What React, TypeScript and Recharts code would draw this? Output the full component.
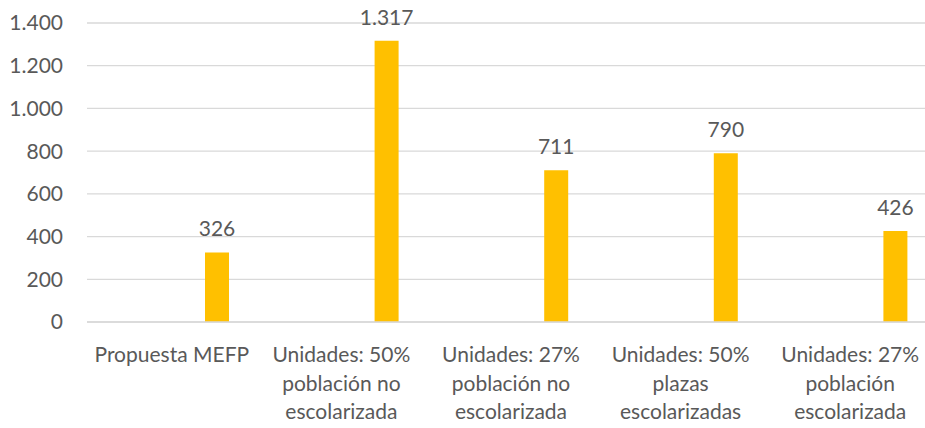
import React from 'react';
import { BarChart, Bar, XAxis, YAxis, CartesianGrid, LabelList } from 'recharts';

const categorias = [
  'Propuesta MEFP',
  'Unidades: 50%\npoblación no\nescolarizada',
  'Unidades: 27%\npoblación no\nescolarizada',
  'Unidades: 50%\nplazas\nescolarizadas',
  'Unidades: 27%\npoblación\nescolarizada',
];

// serie vacía del gráfico original (desplaza las barras a la derecha)
const serieVacia = [0, 0, 0, 0, 0];
const unidades = [326, 1317, 711, 790, 426];

const yTicks = [0, 200, 400, 600, 800, 1000, 1200, 1400];

const data = categorias.map((name, i) => ({
  name,
  vacia: serieVacia[i],
  valor: unidades[i],
}));

const FONT = 'Lato, "Open Sans", sans-serif';
const GRIS = '#595959';

// separador de miles con punto
const fmt = (v: number) => String(v).replace(/\B(?=(\d{3})+(?!\d))/g, '.');

const CategoryTick = (props: any) => {
  const { x, y, payload } = props;
  const lines = String(payload.value).split('\n');
  return (
    <text x={x} y={y} textAnchor="middle" fill={GRIS} fontSize={21} fontFamily={FONT}>
      {lines.map((l, i) => (
        <tspan key={i} x={x} dy={i === 0 ? 40 : 28.5}>
          {l}
        </tspan>
      ))}
    </text>
  );
};

const App: React.FC = () => {
  return (
    <div style={{ position: 'absolute', left: 0, top: 0, width: 925, height: 428, overflow: 'hidden', background: '#fff' }}>
      <BarChart
        width={935}
        height={428}
        data={data}
        margin={{ top: 23, right: 0, left: 0, bottom: 0 }}
        barSize={24}
        barGap={66}
      >
        <CartesianGrid vertical={false} stroke="#d9d9d9" strokeWidth={1.3} />
        <XAxis
          dataKey="name"
          height={106}
          interval={0}
          tickLine={false}
          axisLine={{ stroke: '#d9d9d9', strokeWidth: 1.3 }}
          tickSize={0}
          tickMargin={0}
          tick={<CategoryTick />}
        />
        <YAxis
          width={87}
          domain={[0, 1400]}
          ticks={yTicks}
          tickFormatter={fmt}
          axisLine={false}
          tickLine={false}
          tickSize={0}
          tickMargin={24}
          tick={{ fill: GRIS, fontSize: 21, fontFamily: FONT }}
        />
        <Bar dataKey="vacia" fill="#4472c4" isAnimationActive={false} />
        <Bar dataKey="valor" fill="#FFC000" isAnimationActive={false}>
          <LabelList
            dataKey="valor"
            position="top"
            offset={16}
            formatter={(v: any) => fmt(Number(v))}
            fill={GRIS}
            fontSize={21}
            fontFamily={FONT}
          />
        </Bar>
      </BarChart>
    </div>
  );
};

export default App;
